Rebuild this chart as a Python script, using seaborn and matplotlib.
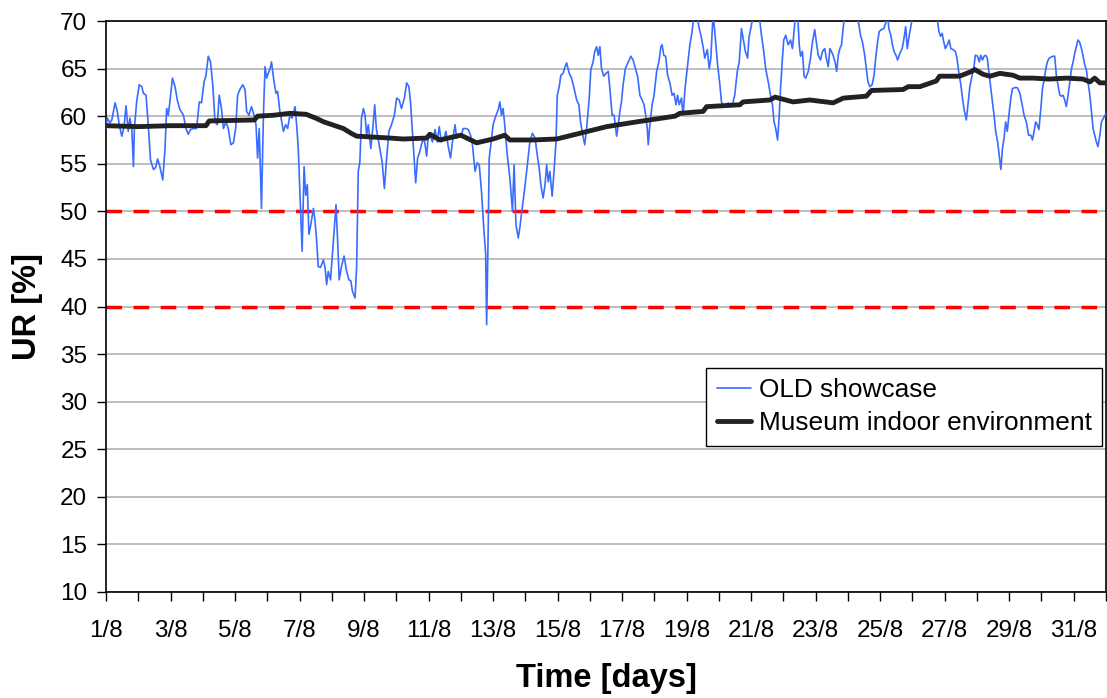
import numpy as np
import pandas as pd
import matplotlib
matplotlib.use("Agg")
import matplotlib.pyplot as plt
import seaborn as sns

# OLD showcase relative humidity (days since 1/8, UR %)
showcase_days = [
    0.00, 0.04, 0.12, 0.18, 0.28, 0.35, 0.41, 0.49, 0.56, 0.62, 0.69, 0.74, 0.80, 0.85, 0.88, 0.95,
    1.03, 1.11, 1.16, 1.24, 1.31, 1.38, 1.47, 1.54, 1.60, 1.67, 1.76, 1.83, 1.88, 1.93, 1.98,
    2.06, 2.14, 2.21, 2.29, 2.40, 2.48, 2.55, 2.62, 2.71, 2.81, 2.89, 2.96,
    3.04, 3.10, 3.17, 3.24, 3.31, 3.38, 3.45, 3.51, 3.58, 3.64, 3.72, 3.79, 3.87, 3.95,
    4.02, 4.08, 4.15, 4.24, 4.31, 4.36, 4.43, 4.51, 4.59, 4.65, 4.70, 4.75, 4.82, 4.88, 4.93, 4.98,
    5.03, 5.08, 5.13, 5.21, 5.27, 5.32, 5.39, 5.50, 5.57, 5.63, 5.70, 5.77, 5.86, 5.91, 5.96,
    6.01, 6.08, 6.14, 6.19, 6.24, 6.29, 6.35, 6.43, 6.48, 6.53, 6.58, 6.65, 6.74, 6.79, 6.84, 6.89, 6.96,
    7.02, 7.08, 7.13, 7.18, 7.23, 7.30, 7.38, 7.46, 7.53, 7.59, 7.64, 7.72, 7.77, 7.82, 7.87, 7.92, 7.98,
    8.03, 8.08, 8.13, 8.21, 8.28, 8.33, 8.38, 8.49, 8.56, 8.63, 8.70, 8.77, 8.85, 8.94,
    9.01, 9.09, 9.16, 9.25, 9.32, 9.39, 9.44, 9.52, 9.60, 9.66, 9.73, 9.80, 9.87, 9.94, 9.99,
    10.04, 10.12, 10.20, 10.27, 10.33, 10.40, 10.48, 10.54, 10.61, 10.68, 10.74, 10.82, 10.87, 10.95,
    11.02, 11.07, 11.16, 11.23, 11.30, 11.36, 11.44, 11.51, 11.57, 11.64, 11.71, 11.77, 11.80, 11.84, 11.88, 11.93,
    12.00, 12.08, 12.16, 12.21, 12.26, 12.31, 12.36, 12.44, 12.52, 12.60, 12.65, 12.71, 12.78, 12.83, 12.90, 12.98,
    13.06, 13.14, 13.22, 13.30, 13.37, 13.43, 13.48, 13.55, 13.61, 13.66, 13.71, 13.76, 13.83, 13.88, 13.95, 13.99,
    14.05, 14.10, 14.17, 14.23, 14.28, 14.36, 14.43, 14.50, 14.59, 14.66, 14.71, 14.77, 14.84, 14.90, 14.98,
    15.03, 15.10, 15.15, 15.21, 15.26, 15.31, 15.36, 15.43, 15.50, 15.57, 15.62, 15.69, 15.75, 15.83, 15.88, 15.93, 15.98,
    16.03, 16.10, 16.19, 16.27, 16.34, 16.42, 16.48, 16.55, 16.62, 16.68, 16.73, 16.78, 16.81, 16.86, 16.93, 16.99,
    17.07, 17.14, 17.20, 17.24, 17.29, 17.35, 17.41, 17.48, 17.55, 17.61, 17.67, 17.72, 17.77, 17.84, 17.89, 17.95,
    18.03, 18.10, 18.17, 18.23, 18.31, 18.38, 18.44, 18.51, 18.56, 18.64, 18.70, 18.75, 18.82, 18.89, 18.96,
    19.03, 19.08, 19.16, 19.24, 19.29, 19.36, 19.42, 19.49, 19.57, 19.63, 19.70, 19.75, 19.82, 19.89, 19.93,
    20.01, 20.09, 20.17, 20.24, 20.32, 20.39, 20.45, 20.53, 20.60, 20.66, 20.71, 20.76, 20.82, 20.87, 20.91, 20.97,
    21.01, 21.07, 21.15, 21.22, 21.28, 21.33, 21.38, 21.44, 21.49, 21.53, 21.59, 21.64, 21.69, 21.77, 21.84, 21.90, 21.97,
    22.02, 22.08, 22.15, 22.21, 22.28, 22.33, 22.39, 22.44, 22.49, 22.54, 22.60, 22.65, 22.70, 22.75, 22.80, 22.85, 22.90, 22.98,
    23.06, 23.16, 23.26, 23.34, 23.39, 23.45, 23.52, 23.57, 23.62, 23.68, 23.75, 23.81, 23.86, 23.92, 23.97,
    24.04, 24.11, 24.17, 24.22, 24.27, 24.33, 24.38, 24.43, 24.49, 24.54, 24.61, 24.68, 24.73, 24.79, 24.84, 24.90, 24.97,
    25.02, 25.12, 25.30, 25.50, 25.68, 25.77, 25.82, 25.87, 25.92, 25.97,
    26.02, 26.08, 26.14, 26.19, 26.26, 26.33, 26.38, 26.44, 26.50, 26.55, 26.60, 26.67, 26.73, 26.78, 26.85, 26.90, 26.95,
    27.02, 27.07, 27.12, 27.17, 27.22, 27.27, 27.32, 27.38, 27.43, 27.48, 27.53, 27.58, 27.64, 27.69, 27.74, 27.79, 27.84, 27.89, 27.94, 27.99,
    28.05, 28.10, 28.17, 28.25, 28.33, 28.40, 28.46, 28.53, 28.60, 28.67, 28.72, 28.77, 28.82, 28.87, 28.92, 28.98,
    29.03, 29.08, 29.13, 29.18, 29.24, 29.29, 29.36, 29.41, 29.46, 29.52, 29.57, 29.62, 29.67, 29.72, 29.77, 29.82, 29.88, 29.93, 29.98,
    30.03, 30.08, 30.13, 30.18, 30.24, 30.29, 30.34, 30.39, 30.44, 30.50, 30.55, 30.60, 30.65, 30.70, 30.75, 30.81, 30.86, 31.00,
]
showcase_ur = [
    58.7, 59.8, 59.3, 59.6, 61.4, 60.5, 59.1, 57.9, 58.9, 61.1, 58.4, 59.8, 58.7, 54.7, 58.7, 61.5,
    63.3, 63.1, 62.4, 62.2, 59.1, 55.4, 54.4, 54.6, 55.5, 54.7, 53.3, 56.6, 60.8, 60.1, 61.5,
    64.0, 63.1, 61.7, 60.7, 60.1, 58.7, 58.1, 58.6, 58.7, 58.7, 61.5, 61.4,
    63.6, 64.3, 66.3, 65.7, 63.3, 59.4, 59.1, 62.2, 60.8, 58.7, 59.4, 58.7, 57.0, 57.2,
    58.7, 62.2, 62.8, 63.3, 62.8, 60.5, 60.1, 61.0, 60.1, 59.1, 55.6, 58.7, 50.3, 60.1, 65.2, 64.0,
    64.5, 64.9, 65.7, 63.6, 62.4, 62.6, 60.5, 58.4, 59.1, 58.7, 60.1, 59.8, 61.0, 59.1, 56.6,
    52.1, 45.8, 54.7, 51.7, 52.8, 47.6, 48.6, 50.3, 49.0, 46.9, 44.2, 44.1, 44.9, 44.1, 42.3, 43.7, 42.8,
    45.5, 48.3, 50.7, 46.9, 42.8, 44.2, 45.3, 43.7, 42.8, 42.7, 41.6, 40.9, 44.2, 54.2, 55.2, 59.8, 60.8,
    60.1, 58.0, 59.1, 56.6, 59.1, 61.2, 58.7, 56.6, 55.2, 52.4, 55.6, 58.4, 59.1, 60.1,
    61.9, 61.7, 60.8, 61.9, 63.5, 63.1, 61.5, 57.3, 53.0, 55.6, 56.3, 57.3, 57.5, 55.8, 58.0,
    58.0, 57.3, 58.6, 57.3, 58.9, 57.3, 57.7, 58.4, 56.8, 55.6, 57.3, 59.1, 57.7, 57.9,
    58.0, 58.7, 58.7, 58.6, 58.0, 57.0, 54.2, 55.1, 54.9, 52.1, 48.3, 45.5, 38.1, 46.2, 55.6, 57.0,
    59.1, 60.0, 60.7, 61.5, 60.1, 60.8, 59.1, 55.9, 53.5, 50.0, 54.9, 48.6, 47.2, 48.3, 50.3, 52.4,
    54.9, 57.3, 58.2, 57.7, 55.9, 54.5, 52.8, 51.4, 52.8, 54.9, 53.1, 54.2, 51.6, 53.8, 57.3, 62.2,
    63.1, 64.3, 64.5, 65.2, 65.6, 64.5, 64.0, 63.1, 61.7, 61.2, 59.4, 58.2, 57.0, 58.7, 61.9,
    64.9, 65.7, 66.8, 67.3, 66.4, 67.3, 65.0, 64.2, 64.5, 64.7, 62.9, 60.1, 60.1, 57.9, 59.1, 60.5, 61.5,
    63.3, 65.0, 65.7, 66.3, 65.9, 64.9, 64.2, 62.2, 61.7, 61.2, 60.1, 58.7, 57.0, 59.1, 61.2, 62.2,
    64.7, 65.7, 67.3, 67.5, 66.4, 66.3, 64.3, 63.5, 62.2, 62.4, 61.2, 62.2, 61.2, 61.9, 60.1, 62.9,
    65.4, 67.5, 68.9, 70.8, 70.8, 69.4, 68.5, 67.3, 66.1, 67.0, 65.0, 66.1, 70.8, 68.2, 65.4,
    63.3, 61.5, 61.0, 61.2, 61.4, 61.0, 61.2, 62.2, 64.7, 65.7, 69.2, 68.2, 66.8, 66.1, 68.2,
    69.6, 71.0, 71.2, 70.8, 68.5, 66.8, 65.0, 63.6, 62.2, 61.2, 59.4, 58.7, 57.5, 60.1, 62.9, 66.1,
    68.0, 68.5, 67.5, 68.0, 67.1, 68.9, 70.8, 70.8, 67.5, 66.3, 66.8, 64.2, 64.0, 64.7, 66.1, 67.8, 69.1,
    67.8, 66.4, 65.9, 66.8, 67.1, 66.1, 65.2, 67.1, 66.8, 66.4, 65.7, 64.7, 66.4, 67.1, 67.5, 69.2, 70.8, 71.5,
    72.0, 71.8, 71.0, 69.6, 68.5, 67.8, 66.4, 65.0, 63.6, 63.1, 63.3, 64.3, 66.1, 67.8, 68.9,
    69.1, 69.2, 69.8, 70.8, 69.2, 68.5, 67.5, 66.8, 66.4, 65.9, 66.6, 67.1, 68.0, 69.4, 67.1, 68.5, 69.8,
    70.8, 71.5, 72.5, 72.8, 71.5, 70.2, 68.9, 68.4, 68.7, 67.8,
    67.1, 67.5, 68.0, 67.1, 67.0, 66.8, 66.1, 64.5, 63.3, 61.9, 60.7, 59.6, 61.5, 63.1, 64.3, 65.0, 66.4,
    66.3, 65.7, 66.4, 65.9, 66.3, 66.4, 66.1, 64.3, 62.9, 61.5, 60.1, 58.4, 57.3, 55.9, 54.4, 56.6, 57.7, 59.4, 58.4, 60.1,
    61.9, 62.9, 63.0, 63.0, 62.4, 61.2, 60.1, 59.4, 58.0, 58.0, 57.5, 58.4, 59.4, 59.1, 58.6, 60.8,
    62.9, 63.8, 64.9, 65.7, 66.1, 66.2, 66.3, 66.3, 64.3, 63.1, 62.2, 62.1, 62.2, 61.7, 61.0, 62.1, 63.6, 65.0, 65.7,
    66.6, 67.3, 68.0, 67.8, 67.1, 66.3, 65.4, 64.9, 63.6, 62.2, 60.5, 58.7, 58.0, 57.3, 56.8, 58.0, 59.4, 60.3,
]

# Museum indoor environment
museum_days = [
    0.0, 1.0, 2.0, 3.1, 3.2, 4.6, 4.7, 5.2, 5.7, 6.2, 6.5, 6.75, 7.1, 7.36, 7.6, 7.77,
    8.8, 9.21, 9.94, 10.04, 10.35, 10.87, 11.0, 11.49, 12.0, 12.36, 12.52, 13.24, 13.97,
    14.69, 15.52, 16.45, 17.64, 17.79, 18.51, 18.62, 19.65, 19.75, 20.58, 20.74, 21.30,
    21.82, 22.54, 22.86, 23.57, 23.73, 24.71, 24.87, 25.23, 25.74, 25.84, 26.46, 26.83,
    26.93, 27.19, 27.40, 27.71, 28.12, 28.33, 28.74, 29.25, 29.77, 30.29, 30.50, 30.65,
    30.81, 31.0,
]
museum_ur = [
    59.0, 58.9, 59.0, 59.0, 59.5, 59.6, 60.0, 60.1, 60.3, 60.2, 59.8, 59.4, 59.0, 58.7, 58.2, 57.9,
    57.7, 57.6, 57.7, 58.1, 57.5, 57.9, 58.0, 57.2, 57.6, 58.0, 57.5, 57.5, 57.6,
    58.2, 58.9, 59.4, 60.0, 60.3, 60.5, 61.0, 61.2, 61.5, 61.7, 62.0, 61.5,
    61.7, 61.4, 61.9, 62.1, 62.7, 62.8, 63.1, 63.1, 63.7, 64.2, 64.2, 64.7,
    64.9, 64.4, 64.2, 64.5, 64.3, 64.0, 64.0, 63.9, 64.0, 63.9, 63.6, 64.0,
    63.5, 63.5,
]

limits = [50, 40]
tick_days = list(range(0, 32))
tick_labels = [f"{d + 1}/8" if d % 2 == 0 and d <= 30 else "" for d in tick_days]

sns.set_style("white")
plt.rcParams["font.family"] = ["Liberation Sans", "DejaVu Sans"]
plt.rcParams["text.color"] = "black"
plt.rcParams["axes.labelcolor"] = "black"

fig = plt.figure(figsize=(11.07, 6.98), dpi=100)
ax = fig.add_axes([106 / 1107, 106 / 698, 1000 / 1107, 571 / 698])

ax.yaxis.grid(True, color="#b3b3b3", lw=1.2, zorder=0)
ax.xaxis.grid(False)
ax.set_axisbelow(True)

for lim in limits:
    ax.axhline(lim, color="#ff0000", lw=2.5, dashes=(4.5, 3.3), zorder=2)

df_show = pd.DataFrame({"day": showcase_days, "ur": showcase_ur})
df_mus = pd.DataFrame({"day": museum_days, "ur": museum_ur})

sns.lineplot(data=df_show, x="day", y="ur", ax=ax, color="#3a6cff", lw=1.2,
             label="OLD showcase", zorder=3)
sns.lineplot(data=df_mus, x="day", y="ur", ax=ax, color="#222222", lw=3.5,
             label="Museum indoor environment", zorder=4)

ax.set_xlim(0, 31)
ax.set_ylim(10, 70)
ax.set_yticks(np.arange(10, 71, 5))
ax.set_xticks(tick_days)
ax.set_xticklabels(tick_labels)

ax.tick_params(axis="both", direction="out", length=6.5, width=1, color="black",
               labelsize=17.5, labelcolor="black")
ax.tick_params(axis="x", pad=14)
ax.tick_params(axis="y", pad=7)
ax.tick_params(left=True, bottom=True)

for sp in ax.spines.values():
    sp.set_visible(True)
    sp.set_color("black")
    sp.set_linewidth(1.2)

ax.set_xlabel("Time [days]", fontsize=23.5, fontweight="bold", labelpad=15, color="black")
ax.set_ylabel("UR [%]", fontsize=23.5, fontweight="bold", labelpad=12, color="black")

leg = ax.legend(loc="upper right", bbox_to_anchor=(0.996, 0.393), fontsize=18.9,
                frameon=True, fancybox=False, framealpha=1, edgecolor="black",
                borderpad=0.4, labelspacing=0.35, handlelength=1.3,
                handletextpad=0.3, borderaxespad=0)
leg.get_frame().set_linewidth(1.0)

fig.savefig("out.png", dpi=100)
